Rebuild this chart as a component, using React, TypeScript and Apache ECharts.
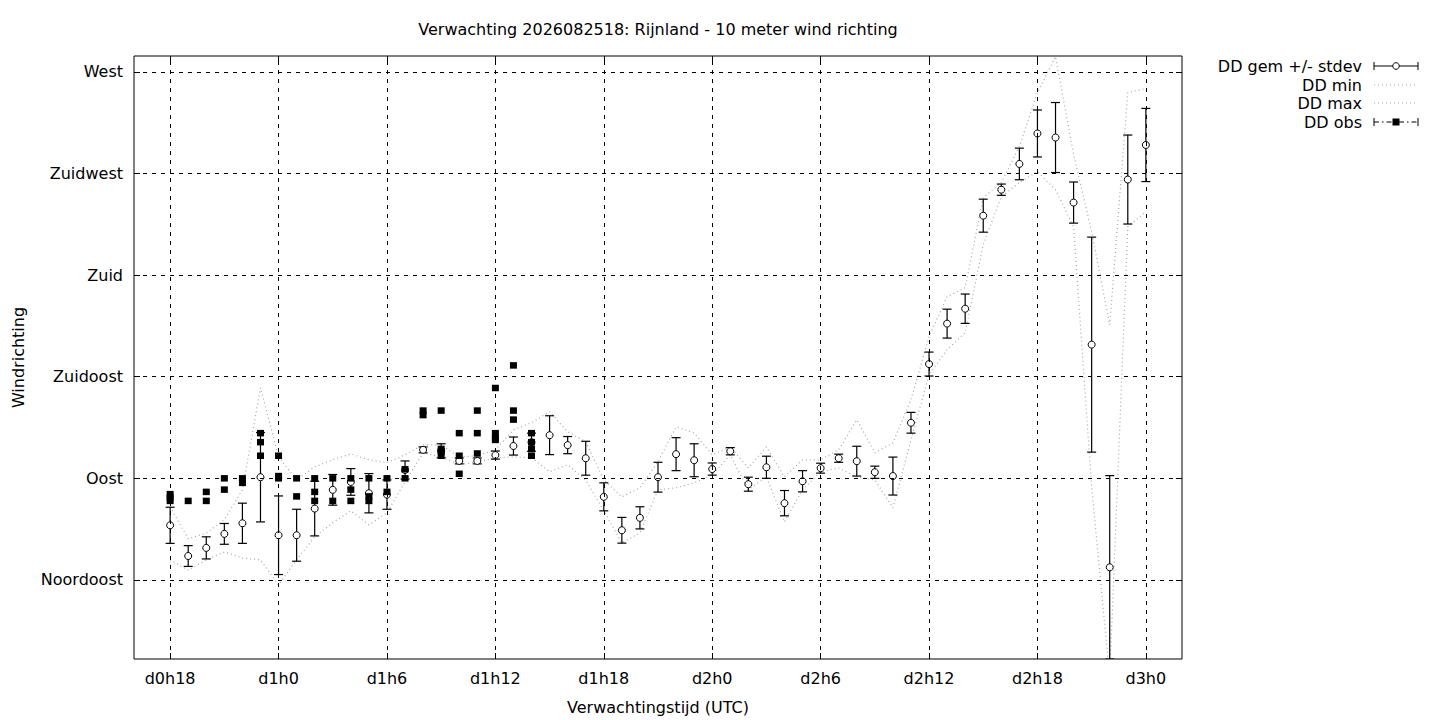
import React, { useEffect, useRef } from "react";
import * as echarts from "echarts";

// forecast hours (hours since d0h0)
const hours = [
  18, 19, 20, 21, 22, 23, 24, 25, 26, 27, 28, 29, 30, 31, 32, 33, 34, 35, 36,
  37, 38, 39, 40, 41, 42, 43, 44, 45, 46, 47, 48, 49, 50, 51, 52, 53, 54, 55,
  56, 57, 58, 59, 60, 61, 62, 63, 64, 65, 66, 67, 68, 69, 70, 71, 72,
];

// DD gem (mean wind direction, degrees)
const meanDD = [
  69.2, 55.6, 59.2, 65.4, 70.1, 90.5, 64.8, 64.8, 76.6, 84.9, 88.4, 83.4, 82.8,
  93.7, 102.6, 102.2, 97.7, 97.7, 100.3, 104.3, 106.0, 109.1, 104.7, 98.9, 81.8,
  67.0, 72.5, 90.5, 100.7, 98.0, 94.1, 102.0, 87.4, 94.9, 79.0, 88.7, 94.5, 98.9,
  97.6, 92.7, 91.0, 114.6, 140.6, 158.5, 165.1, 206.3, 217.8, 229.2, 242.7,
  240.9, 212.1, 149.2, 50.6, 222.3, 237.6,
];

// stdev (degrees)
const stdevDD = [
  8.0, 4.6, 4.9, 4.6, 8.9, 19.8, 17.4, 11.5, 12.1, 6.8, 5.9, 8.7, 6.5, 4.0, 1.3,
  3.1, 1.3, 1.3, 1.8, 4.0, 4.0, 8.6, 3.8, 7.5, 6.2, 5.7, 4.9, 6.6, 7.3, 7.3, 2.7,
  1.6, 3.1, 4.9, 5.6, 4.7, 2.2, 1.8, 6.6, 2.7, 8.4, 4.6, 5.3, 6.4, 6.5, 7.3, 2.5,
  7.0, 10.4, 15.5, 9.1, 47.6, 40.6, 19.7, 16.2,
];

// DD min
const minDD = [
  53.9, 49.4, 53.9, 57.4, 54.7, 53.9, 42.8, 53.9, 64.1, 70.3, 75.6, 69.4, 74.7,
  88.4, 101.3, 99.5, 96.0, 97.3, 99.1, 99.5, 99.1, 92.9, 96.0, 89.3, 75.6, 61.4,
  65.8, 84.9, 85.8, 88.0, 91.5, 100.4, 84.9, 90.6, 70.7, 84.9, 92.9, 94.6, 90.6,
  89.3, 76.9, 107.0, 135.8, 146.9, 154.5, 193.5, 214.7, 220.9, 225.8, 217.8,
  201.4, 86.2, 2.0, 201.4, 208.1,
];

// DD max
const maxDD = [
  77.4, 63.2, 65.8, 71.6, 84.9, 130.1, 99.5, 89.3, 95.1, 98.2, 100.8, 98.2, 96.9,
  100.4, 104.8, 104.8, 99.5, 100.0, 102.6, 111.5, 114.6, 119.5, 110.6, 106.2,
  89.3, 81.8, 85.8, 97.3, 112.8, 110.1, 100.4, 103.9, 94.6, 103.9, 90.6, 98.2,
  98.2, 102.6, 115.9, 101.3, 105.7, 124.8, 152.7, 170.4, 174.4, 214.3, 220.9,
  236.9, 260.8, 276.8, 233.5, 199.2, 158.0, 260.8, 262.6,
];

// DD obs
const obsHours = [
  18, 18, 18, 19, 20, 20, 21, 21, 22, 22, 23, 23, 23, 24, 24, 24, 25, 25, 26, 26,
  26, 27, 27, 28, 28, 28, 29, 29, 29, 30, 30, 31, 31, 32, 32, 33, 33, 33, 33, 34,
  34, 34, 35, 35, 35, 36, 36, 36, 36, 37, 37, 37, 38, 38, 38, 38,
];
const obsDD = [
  83, 81.5, 80, 80, 84, 80, 90, 85, 90, 88, 110, 106, 100, 100, 91, 90, 90, 82,
  90, 84, 80, 90, 80, 90, 85, 80, 90, 82, 80, 90, 84, 94, 90, 120, 118, 120, 103,
  102, 100, 110, 100, 92, 120, 110, 101, 130, 110, 108, 107, 140, 120, 116, 110,
  106, 103, 100,
];

// ticks
const xTickValues = [18, 24, 30, 36, 42, 48, 54, 60, 66, 72];
const xTickLabels = [
  "d0h18", "d1h0", "d1h6", "d1h12", "d1h18", "d2h0", "d2h6", "d2h12", "d2h18", "d3h0",
];
const yTickValues = [45, 90, 135, 180, 225, 270];
const yTickLabels = ["Noordoost", "Oost", "Zuidoost", "Zuid", "Zuidwest", "West"];

const FONT = "DejaVu Sans";
const FS = 16;
const GRAY = "#a6a6a6";

function buildOption(): any {
  const labelStyle = { fontFamily: FONT, fontSize: FS, color: "#000" };
  const tick = (values: number[]) => ({
    show: true,
    inside: true,
    length: 6,
    customValues: values,
    lineStyle: { color: "#000", width: 1 },
  });

  const legendRows = [
    { name: "DD gem +/- stdev", y: 66 },
    { name: "DD min", y: 85 },
    { name: "DD max", y: 103 },
    { name: "DD obs", y: 122 },
  ];
  const lx1 = 1374;
  const lx2 = 1418;
  const lxc = (lx1 + lx2) / 2;
  const legendGraphics: any[] = [];
  legendRows.forEach((r, i) => {
    legendGraphics.push({
      type: "text",
      x: 1362,
      y: r.y,
      style: {
        text: r.name,
        fill: "#000",
        font: `${FS}px "${FONT}"`,
        textAlign: "right",
        textVerticalAlign: "middle",
      },
    });
    if (i === 0) {
      const st = { stroke: "#000", lineWidth: 1 };
      legendGraphics.push(
        { type: "line", shape: { x1: lx1, y1: r.y, x2: lx2, y2: r.y }, style: st },
        { type: "line", shape: { x1: lx1, y1: r.y - 4, x2: lx1, y2: r.y + 4 }, style: st },
        { type: "line", shape: { x1: lx2, y1: r.y - 4, x2: lx2, y2: r.y + 4 }, style: st },
        { type: "circle", shape: { cx: lxc, cy: r.y, r: 3.3 }, style: { fill: "#fff", stroke: "#000", lineWidth: 1 } }
      );
    } else if (i === 1 || i === 2) {
      legendGraphics.push({
        type: "line",
        shape: { x1: lx1, y1: r.y, x2: lx2, y2: r.y },
        style: { stroke: GRAY, lineWidth: 1, lineDash: [1, 3] },
      });
    } else {
      const st = { stroke: "#000", lineWidth: 1 };
      legendGraphics.push(
        { type: "line", shape: { x1: lx1, y1: r.y, x2: lx2, y2: r.y }, style: { stroke: "#000", lineWidth: 1, lineDash: [5, 3, 1.5, 3] } },
        { type: "line", shape: { x1: lx1, y1: r.y - 4, x2: lx1, y2: r.y + 4 }, style: st },
        { type: "line", shape: { x1: lx2, y1: r.y - 4, x2: lx2, y2: r.y + 4 }, style: st },
        { type: "rect", shape: { x: lxc - 3.5, y: r.y - 3.5, width: 7, height: 7 }, style: { fill: "#000" } }
      );
    }
  });

  return {
    animation: false,
    backgroundColor: "#fff",
    textStyle: { fontFamily: FONT },
    grid: {
      left: 134,
      right: 258,
      top: 56,
      bottom: 61,
      show: true,
      borderColor: "#000",
      borderWidth: 1,
      backgroundColor: "transparent",
    },
    xAxis: [
      {
        type: "value",
        min: 16,
        max: 74,
        position: "bottom",
        axisLine: { show: false },
        axisTick: tick(xTickValues),
        splitLine: { show: false },
        axisLabel: {
          ...labelStyle,
          customValues: xTickValues,
          margin: 11,
          formatter: (v: number) => xTickLabels[xTickValues.indexOf(v)] ?? "",
        },
        name: "Verwachtingstijd (UTC)",
        nameLocation: "middle",
        nameGap: 40,
        nameTextStyle: labelStyle,
      },
      {
        type: "value",
        min: 16,
        max: 74,
        position: "top",
        axisLine: { show: false },
        axisTick: tick(xTickValues),
        splitLine: { show: false },
        axisLabel: { show: false },
      },
    ],
    yAxis: [
      {
        type: "value",
        min: 10,
        max: 277,
        position: "left",
        axisLine: { show: false },
        axisTick: tick(yTickValues),
        splitLine: { show: false },
        axisLabel: {
          ...labelStyle,
          customValues: yTickValues,
          margin: 11,
          formatter: (v: number) => yTickLabels[yTickValues.indexOf(v)] ?? "",
        },
        name: "Windrichting",
        nameLocation: "middle",
        nameRotate: 90,
        nameGap: 108,
        nameTextStyle: labelStyle,
      },
      {
        type: "value",
        min: 10,
        max: 277,
        position: "right",
        axisLine: { show: false },
        axisTick: tick(yTickValues),
        splitLine: { show: false },
        axisLabel: { show: false },
      },
    ],
    graphic: [
      {
        type: "text",
        x: 658,
        y: 29,
        style: {
          text: "Verwachting 2026082518: Rijnland - 10 meter wind richting",
          fill: "#000",
          font: `${FS}px "${FONT}"`,
          textAlign: "center",
          textVerticalAlign: "middle",
        },
      },
      ...legendGraphics,
    ],
    series: [
      {
        name: "grid",
        type: "line",
        data: [],
        silent: true,
        z: 1,
        markLine: {
          silent: true,
          symbol: ["none", "none"],
          label: { show: false },
          lineStyle: { color: "#000", width: 1, type: [4, 5] },
          emphasis: { disabled: true },
          data: [
            ...xTickValues.map((v) => ({ xAxis: v })),
            ...yTickValues.map((v) => ({ yAxis: v })),
          ],
        },
      },
      {
        name: "DD min",
        type: "line",
        data: hours.map((h, i) => [h, minDD[i]]),
        showSymbol: false,
        symbol: "none",
        clip: true,
        z: 2,
        lineStyle: { color: GRAY, width: 1.2, type: [1, 3] },
      },
      {
        name: "DD max",
        type: "line",
        data: hours.map((h, i) => [h, maxDD[i]]),
        showSymbol: false,
        symbol: "none",
        clip: true,
        z: 2,
        lineStyle: { color: GRAY, width: 1.2, type: [1, 3] },
      },
      {
        name: "DD stdev",
        type: "custom",
        clip: true,
        z: 3,
        data: hours.map((h, i) => [h, meanDD[i], stdevDD[i]]),
        encode: { x: 0, y: 1 },
        renderItem: (params: any, api: any) => {
          const x = api.value(0);
          const m = api.value(1);
          const s = api.value(2);
          const p1 = api.coord([x, m + s]);
          const p2 = api.coord([x, m - s]);
          const hw = 4.5;
          const st = { stroke: "#000", lineWidth: 1.2, fill: null };
          return {
            type: "group",
            children: [
              { type: "line", shape: { x1: p1[0], y1: p1[1], x2: p2[0], y2: p2[1] }, style: st },
              { type: "line", shape: { x1: p1[0] - hw, y1: p1[1], x2: p1[0] + hw, y2: p1[1] }, style: st },
              { type: "line", shape: { x1: p2[0] - hw, y1: p2[1], x2: p2[0] + hw, y2: p2[1] }, style: st },
            ],
          };
        },
      },
      {
        name: "DD gem +/- stdev",
        type: "scatter",
        z: 4,
        symbol: "circle",
        symbolSize: 7,
        data: hours.map((h, i) => [h, meanDD[i]]),
        itemStyle: { color: "#fff", borderColor: "#000", borderWidth: 1, opacity: 1 },
      },
      {
        name: "DD obs",
        type: "scatter",
        z: 5,
        symbol: "rect",
        symbolSize: [7, 6.5],
        data: obsHours.map((h, i) => [h, obsDD[i]]),
        itemStyle: { color: "#000", opacity: 1 },
      },
    ],
  };
}

export default function App() {
  const ref = useRef<HTMLDivElement>(null);
  useEffect(() => {
    document.body.style.margin = "0";
    const chart = echarts.init(ref.current!, null, { renderer: "svg" });
    chart.setOption(buildOption());
    return () => chart.dispose();
  }, []);
  return <div ref={ref} style={{ width: 1440, height: 720 }} />;
}
